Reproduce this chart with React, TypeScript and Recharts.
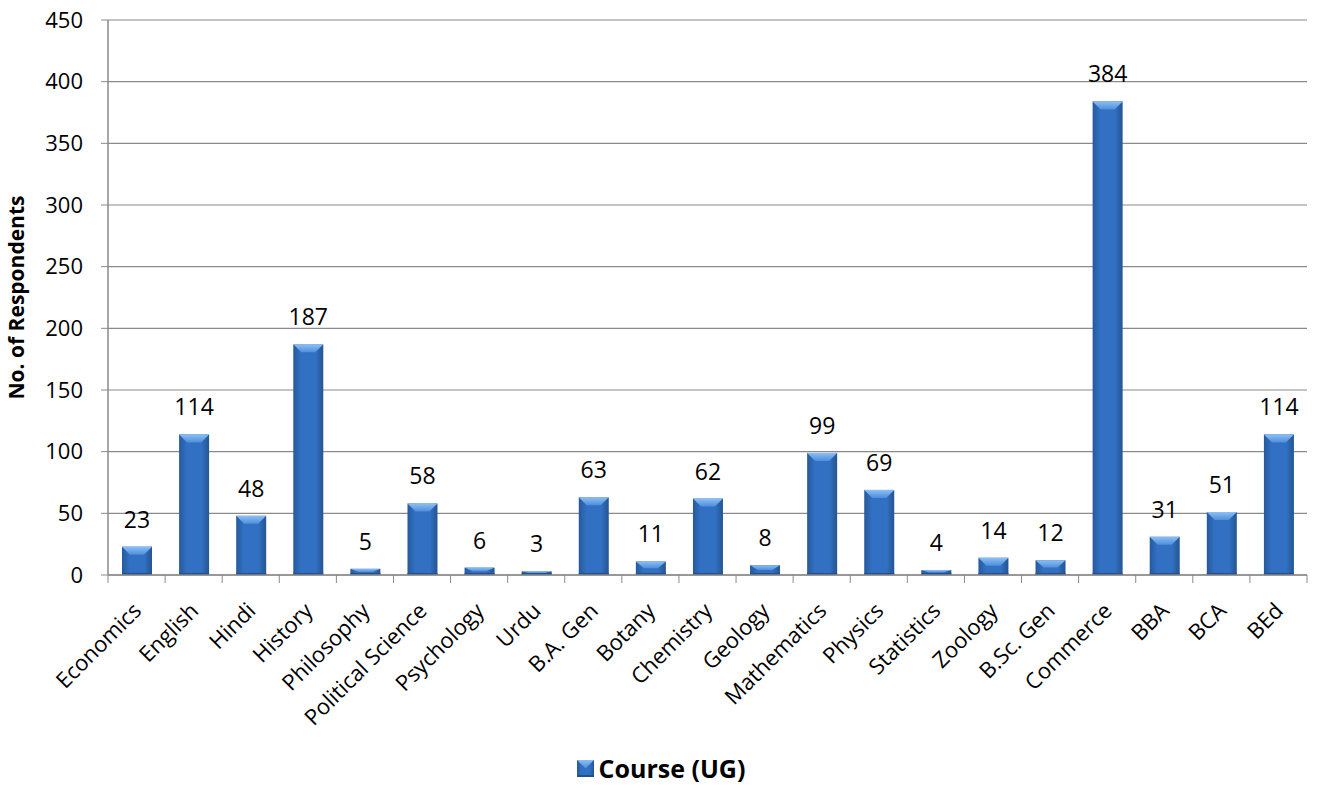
import React from "react"
import { BarChart, Bar, XAxis, YAxis, CartesianGrid, Legend, LabelList, Label } from "recharts"

const courses = [
  "Economics", "English", "Hindi", "History", "Philosophy", "Political Science", "Psychology",
  "Urdu", "B.A. Gen", "Botany", "Chemistry", "Geology", "Mathematics", "Physics", "Statistics",
  "Zoology", "B.Sc. Gen", "Commerce", "BBA", "BCA", "BEd",
]
const respondents = [23, 114, 48, 187, 5, 58, 6, 3, 63, 11, 62, 8, 99, 69, 4, 14, 12, 384, 31, 51, 114]
const yTicks = [0, 50, 100, 150, 200, 250, 300, 350, 400, 450]

const data = courses.map((course, i) => ({ course, value: respondents[i] }))

const W = 1321
const H = 800
const margin = { top: 20, right: 14, left: 40, bottom: 4 }
const yAxisWidth = 68
const band = (W - margin.left - margin.right - yAxisWidth) / courses.length
const font = "'Open Sans', Calibri, sans-serif"
const grey = "#8a8a8a"

function BevelBar(props: any) {
  const { x, y, width: w, height: h } = props
  if (!h || h <= 0) return null
  const t = Math.min(8, h / 2)
  const s = Math.min(8, w / 2)
  return (
    <g>
      <rect x={x} y={y} width={w} height={h} fill="url(#barBody)" />
      <polygon points={`${x},${y} ${x + w},${y} ${x + w - s},${y + t} ${x + s},${y + t}`} fill="url(#barTop)" />
      <rect x={x} y={y + h - 2} width={w} height={2} fill="#244f8c" />
    </g>
  )
}

function CategoryTick(props: any) {
  const { x, y, payload, index } = props
  const ax = x + 2
  const ay = y + 33
  return (
    <g>
      <line x1={x + band / 2} x2={x + band / 2} y1={y} y2={y + 8} stroke={grey} />
      {index === 0 && <line x1={x - band / 2} x2={x - band / 2} y1={y} y2={y + 8} stroke={grey} />}
      <text
        x={ax}
        y={ay}
        transform={`rotate(-45, ${ax}, ${ay})`}
        textAnchor="end"
        dominantBaseline="middle"
        fontFamily={font}
        fontSize={22}
        fill="#000"
      >
        {payload.value}
      </text>
    </g>
  )
}

function LegendContent() {
  return (
    <div style={{ display: "flex", justifyContent: "center", alignItems: "center", height: 56, fontFamily: font }}>
      <svg width={19} height={19} style={{ marginRight: 4 }}>
        <BevelBar x={1} y={1} width={17} height={17} />
      </svg>
      <span style={{ fontSize: 25, fontWeight: 700, color: "#000" }}>Course (UG)</span>
    </div>
  )
}

function YTitle(props: any) {
  const { viewBox } = props
  const cx = viewBox.x - 22
  const cy = viewBox.y + viewBox.height / 2
  return (
    <text
      x={cx}
      y={cy}
      transform={`rotate(-90, ${cx}, ${cy})`}
      textAnchor="middle"
      dominantBaseline="middle"
      fontFamily={font}
      fontWeight={700}
      fontSize={21}
      fill="#000"
    >
      No. of Respondents
    </text>
  )
}

export default function App() {
  return (
    <div style={{ position: "absolute", left: 0, top: 0, width: W, height: H, background: "#fff" }}>
      <BarChart width={W} height={H} data={data} margin={margin} barSize={30}>
        <defs>
          <linearGradient id="barBody" x1="0" y1="0" x2="1" y2="0">
            <stop offset="0%" stopColor="#26599d" />
            <stop offset="25%" stopColor="#3170c2" />
            <stop offset="75%" stopColor="#3170c2" />
            <stop offset="100%" stopColor="#24558f" />
          </linearGradient>
          <linearGradient id="barTop" x1="0" y1="0" x2="0" y2="1">
            <stop offset="0%" stopColor="#8cc0f5" />
            <stop offset="100%" stopColor="#4f8edb" />
          </linearGradient>
        </defs>
        <CartesianGrid vertical={false} stroke={grey} strokeWidth={1.2} />
        <XAxis
          dataKey="course"
          interval={0}
          tickLine={false}
          tickSize={0}
          tickMargin={0}
          height={165}
          axisLine={{ stroke: grey, strokeWidth: 1.5 }}
          tick={<CategoryTick />}
        />
        <YAxis
          width={yAxisWidth}
          domain={[0, 450]}
          ticks={yTicks}
          interval={0}
          tickSize={7}
          tickMargin={18}
          axisLine={{ stroke: grey, strokeWidth: 1.5 }}
          tickLine={{ stroke: grey }}
          tick={{ fontFamily: font, fontSize: 22, fill: "#000" }}
        >
          <Label content={<YTitle />} />
        </YAxis>
        <Legend
          verticalAlign="bottom"
          height={56}
          wrapperStyle={{ left: 0, width: W }}
          content={<LegendContent />}
        />
        <Bar dataKey="value" name="Course (UG)" shape={<BevelBar />} isAnimationActive={false}>
          <LabelList dataKey="value" position="top" offset={19} style={{ fontFamily: font, fontSize: 23, fill: "#000" }} />
        </Bar>
      </BarChart>
    </div>
  )
}
